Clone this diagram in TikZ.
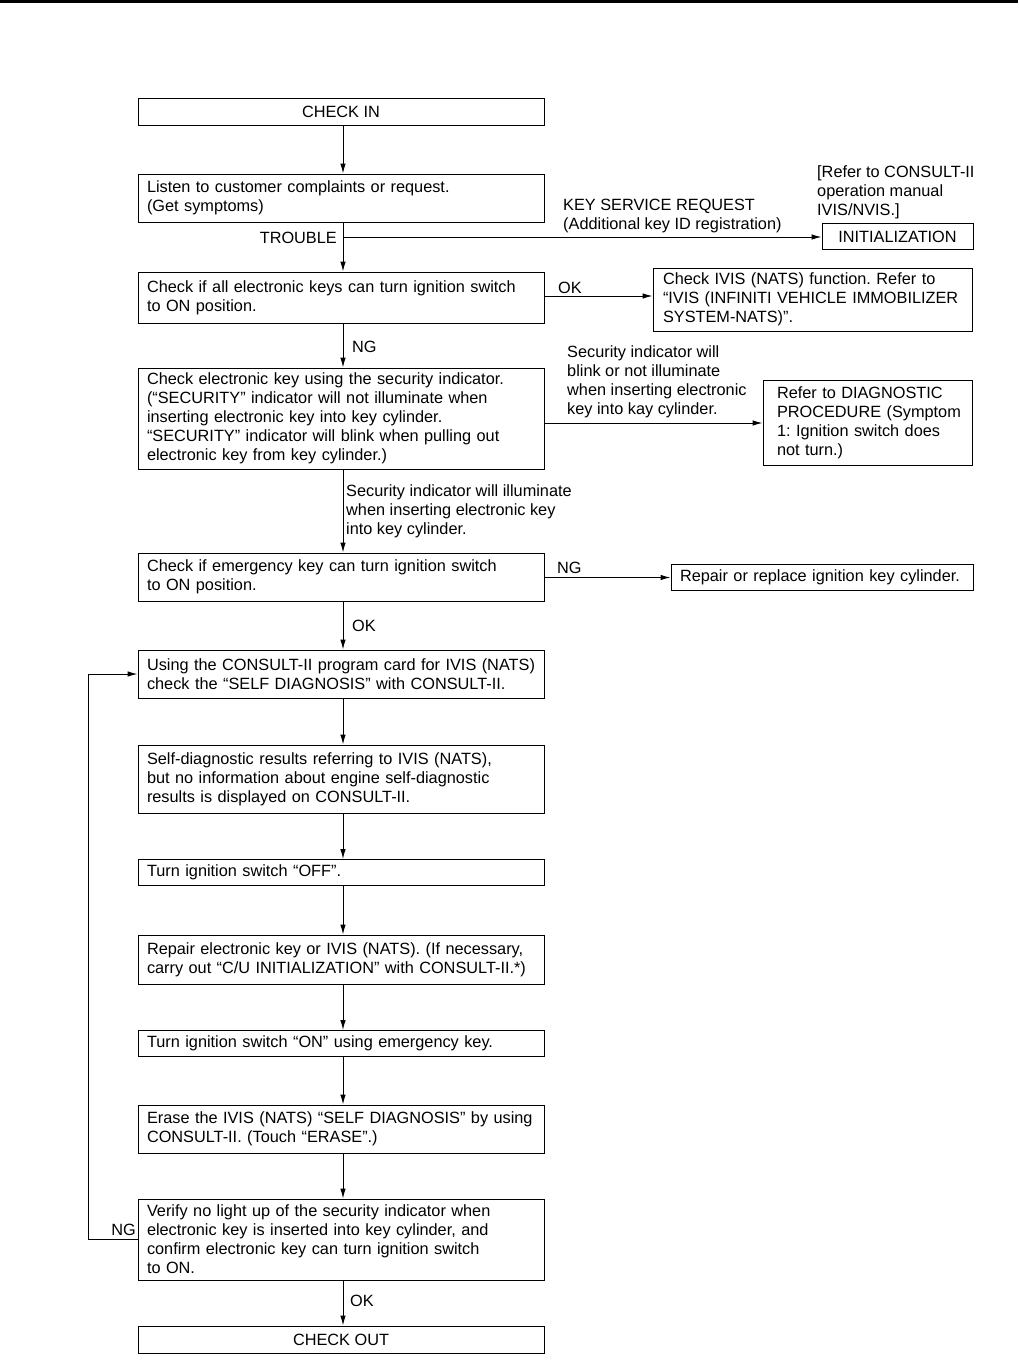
\documentclass[tikz,border=0pt]{standalone}
\usepackage{fontspec}
\setmainfont{Liberation Sans}
\usetikzlibrary{arrows.meta}
\frenchspacing
\begin{document}
\begin{tikzpicture}[x=1pt,y=-1pt,
  every node/.style={font=\fontsize{16.3}{19}\selectfont\frenchspacing},
  box/.style={draw,line width=1pt,inner ysep=0pt,align=left},
  mbox/.style={box,minimum width=406,text width=388,inner xsep=9},
  cbox/.style={draw,line width=1pt,inner sep=0pt,align=center},
  lbl/.style={inner sep=0pt,align=left},
  arr/.style={line width=1pt,-{Latex[length=10pt,width=5.5pt]}},
  ln/.style={line width=1pt}]
\useasboundingbox (0,0) rectangle (1018,1365);
\fill (0,0) rectangle (1018,3);
% main column
\node[cbox,minimum width=406,minimum height=27] (n1) at (341,111.5) {CHECK IN};
\node[mbox,minimum height=48] (n2) at (341,198) {Listen to customer complaints or request.\\(Get symptoms)};
\node[mbox,minimum height=51] (n3) at (341,297.5) {Check if all electronic keys can turn ignition switch\\to ON position.};
\node[mbox,minimum height=101] (n4) at (341,418.5) {Check electronic key using the security indicator.\\(“SECURITY” indicator will not illuminate when\\inserting electronic key into key cylinder.\\“SECURITY” indicator will blink when pulling out\\electronic key from key cylinder.)};
\node[mbox,minimum height=48] (n5) at (341,577) {Check if emergency key can turn ignition switch\\to ON position.};
\node[mbox,minimum height=48] (n6) at (341,674) {Using the CONSULT-II program card for IVIS (NATS)\\check the “SELF DIAGNOSIS” with CONSULT-II.};
\node[mbox,minimum height=68] (n7) at (341,779) {Self-diagnostic results referring to IVIS (NATS),\\but no information about engine self-diagnostic\\results is displayed on CONSULT-II.};
\node[mbox,minimum height=26] (n8) at (341,872.5) {Turn ignition switch “OFF”.};
\node[mbox,minimum height=49] (n9) at (341,959.5) {Repair electronic key or IVIS (NATS). (If necessary,\\carry out “C/U INITIALIZATION” with CONSULT-II.*)};
\node[mbox,minimum height=26] (n10) at (341,1043.5) {Turn ignition switch “ON” using emergency key.};
\node[mbox,minimum height=48] (n11) at (341,1129) {Erase the IVIS (NATS) “SELF DIAGNOSIS” by using\\CONSULT-II. (Touch “ERASE”.)};
\node[mbox,minimum height=81] (n12) at (341,1239.5) {Verify no light up of the security indicator when\\electronic key is inserted into key cylinder, and\\confirm electronic key can turn ignition switch\\to ON.};
\node[cbox,minimum width=406,minimum height=27] (n13) at (341,1339.5) {CHECK OUT};
% side boxes
\node[cbox,minimum width=151,minimum height=26] (init) at (897.5,236.5) {INITIALIZATION};
\node[box,minimum width=319,text width=299,inner xsep=10,minimum height=63] (ivis) at (812.5,299.5) {Check IVIS (NATS) function. Refer to\\“IVIS (INFINITI VEHICLE IMMOBILIZER\\SYSTEM-NATS)”.};
\node[box,minimum width=209,text width=181,inner xsep=14,minimum height=85] (diag) at (867.5,422.5) {\mbox{Refer to DIAGNOSTIC}\\\mbox{PROCEDURE (Symptom}\\\mbox{1: Ignition switch does}\\\mbox{not turn.)}};
\node[box,minimum width=302,text width=284,inner xsep=9,minimum height=26] (rep) at (822,577.5) {Repair or replace ignition key cylinder.};
% labels
\node[lbl,anchor=west] (lref) at (817,192) {[Refer to CONSULT-II\\operation manual\\IVIS/NVIS.]};
\node[lbl,anchor=west] (lkey) at (563,215.5) {KEY SERVICE REQUEST\\(Additional key ID registration)};
\node[lbl,anchor=east] (ltr) at (337,238) {TROUBLE};
\node[lbl,anchor=west] (lok1) at (558,288) {OK};
\node[lbl,anchor=west] (lng1) at (352,347) {NG};
\node[lbl,anchor=west] (lblink) at (567,381.5) {Security indicator will\\blink or not illuminate\\when inserting electronic\\key into kay cylinder.};
\node[lbl,anchor=west] (lillum) at (346,511) {Security indicator will illuminate\\when inserting electronic key\\into key cylinder.};
\node[lbl,anchor=west] (lng2) at (557,568) {NG};
\node[lbl,anchor=west] (lok2) at (352,626) {OK};
\node[lbl,anchor=east] (lng3) at (136,1230) {NG};
\node[lbl,anchor=west] (lok3) at (350,1301) {OK};
% connectors
\draw[arr] ([xshift=2]n1.south) -- ([xshift=2]n2.north);
\draw[arr] ([xshift=2]n2.south) -- ([xshift=2]n3.north);
\coordinate (tb) at (343,237);
\draw[arr] (tb) -- (tb -| init.west);
\draw[arr] ([xshift=2]n3.south) -- ([xshift=2]n4.north);
\draw[arr] (n3.east |- 0,296) -- (ivis.west |- 0,296);
\draw[arr] (n4.east |- 0,423) -- (diag.west |- 0,423);
\draw[arr] (n5.east |- rep.west) -- (rep.west);
\draw[arr] ([xshift=2]n4.south) -- ([xshift=2]n5.north);
\draw[arr] ([xshift=2]n5.south) -- ([xshift=2]n6.north);
\draw[arr] ([xshift=2]n6.south) -- ([xshift=2]n7.north);
\draw[arr] ([xshift=2]n7.south) -- ([xshift=2]n8.north);
\draw[arr] ([xshift=2]n8.south) -- ([xshift=2]n9.north);
\draw[arr] ([xshift=2]n9.south) -- ([xshift=2]n10.north);
\draw[arr] ([xshift=2]n10.south) -- ([xshift=2]n11.north);
\draw[arr] ([xshift=2]n11.south) -- ([xshift=2]n12.north);
\draw[arr] ([xshift=2]n12.south) -- ([xshift=2]n13.north);
\draw[arr] (n12.west |- 0,1239) -- (88,1239) |- (n6.west);
\end{tikzpicture}
\end{document}
